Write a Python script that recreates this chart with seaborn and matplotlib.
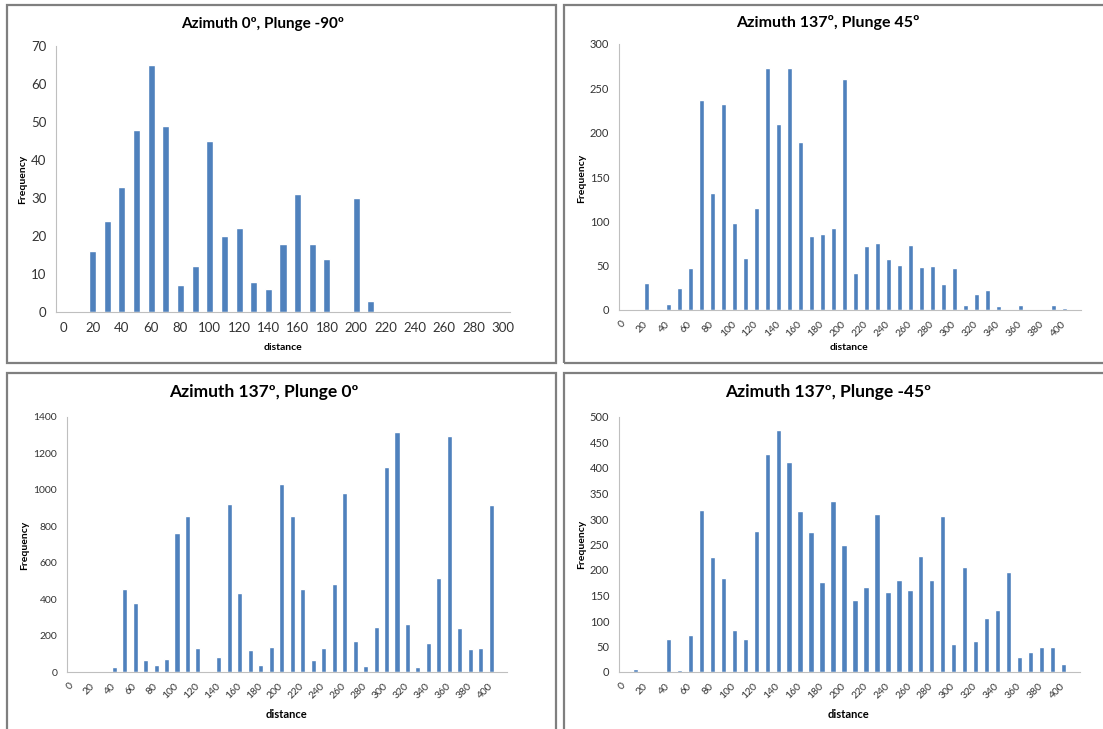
import matplotlib
matplotlib.use("Agg")
import matplotlib.pyplot as plt
from matplotlib.patches import Rectangle
import seaborn as sns
import pandas as pd

sns.set_style("white")
plt.rcParams["font.family"] = ["Lato", "DejaVu Sans"]

# distance classes (10 m bins)
dist_short = list(range(0, 310, 10))
dist_long = list(range(0, 420, 10))

freq_az0_pl_m90 = [0, 0, 16, 24, 33, 48, 65, 49, 7, 12, 45, 20, 22, 8, 6, 18, 31,
                   18, 14, 0, 30, 3, 0, 0, 0, 0, 0, 0, 0, 0, 0]

freq_az137_pl45 = [0, 0, 30, 1, 7, 25, 47, 237, 132, 232, 98, 59, 115, 273, 210,
                   273, 190, 84, 86, 92, 261, 42, 72, 76, 57, 51, 73, 48, 50, 29,
                   47, 6, 18, 22, 5, 0, 6, 0, 0, 6, 2, 0]

freq_az137_pl0 = [0, 0, 0, 0, 25, 457, 378, 66, 40, 69, 764, 857, 133, 0, 80, 921,
                  433, 119, 40, 139, 1033, 857, 453, 64, 130, 481, 983, 170, 31,
                  249, 1128, 1318, 261, 25, 161, 515, 1296, 243, 128, 130, 918, 0]

freq_az137_pl_m45 = [0, 6, 0, 0, 65, 4, 73, 317, 225, 184, 82, 65, 277, 428, 475,
                     412, 316, 275, 176, 335, 250, 141, 167, 310, 157, 180, 161,
                     228, 180, 305, 55, 206, 61, 106, 121, 196, 30, 40, 49, 49, 15, 0]

titles = ["Azimuth 0º, Plunge -90º", "Azimuth 137º, Plunge 45º",
          "Azimuth 137º, Plunge 0º", "Azimuth 137º, Plunge -45º"]

BAR = "#4F81BD"
AXIS = "#BFBFBF"
TXT = "#333333"

W, H = 1103, 729
fig = plt.figure(figsize=(W / 100, H / 100), dpi=100)


def fx(px):
    return px / W


def fy(py):
    return 1 - py / H


def box(x0, y0, x1, y1):
    fig.add_artist(Rectangle((fx(x0), fy(y1)), fx(x1) - fx(x0), fy(y0) - fy(y1),
                             transform=fig.transFigure, fill=False,
                             edgecolor="#7F7F7F", linewidth=1.6))


def panel(rect_px, cats, vals, ymax, ystep, rotate, xfs, yfs):
    x0, y0, x1, y1 = rect_px
    ax = fig.add_axes([fx(x0), fy(y1), fx(x1) - fx(x0), fy(y0) - fy(y1)])
    df = pd.DataFrame({"distance": [str(c) for c in cats], "Frequency": vals})
    sns.barplot(data=df, x="distance", y="Frequency", order=df["distance"],
                color=BAR, saturation=1, width=0.48, ax=ax)
    n = len(cats)
    ax.set_xlim(-0.5, n - 0.5)
    ax.set_ylim(0, ymax)
    ax.set_yticks(range(0, ymax + 1, ystep))
    ax.set_yticklabels([str(v) for v in range(0, ymax + 1, ystep)],
                       fontsize=yfs, color=TXT)
    ax.set_xticks(range(0, n, 2))
    ax.set_xticks([i - 0.5 for i in range(n + 1)], minor=True)
    if rotate:
        ax.set_xticklabels([str(cats[i]) for i in range(0, n, 2)], rotation=45,
                           ha="right", va="center", rotation_mode="anchor",
                           fontsize=xfs, color=TXT)
    else:
        ax.set_xticklabels([str(cats[i]) for i in range(0, n, 2)],
                           fontsize=xfs, color=TXT)
    ax.tick_params(axis="x", which="major", length=0, pad=9 if rotate else 7)
    ax.tick_params(axis="x", which="minor", length=4, width=0.8, color=AXIS,
                   direction="out")
    ax.tick_params(axis="y", which="major", length=4, width=0.8, color=AXIS,
                   direction="out", pad=3)
    ax.set_xlabel("")
    ax.set_ylabel("")
    for s in ["top", "right"]:
        ax.spines[s].set_visible(False)
    for s in ["left", "bottom"]:
        ax.spines[s].set_color(AXIS)
        ax.spines[s].set_linewidth(0.8)
    ax.patch.set_alpha(0)
    return ax


# chart frames
box(7, 5, 556, 363)
box(564, 5, 1112, 363)
box(7, 373, 556, 740)
box(564, 373, 1112, 740)

panel((56, 46, 510, 312), dist_short, freq_az0_pl_m90, 70, 10, False, 9.5, 9.5)
panel((619, 44, 1081, 310), dist_long, freq_az137_pl45, 300, 50, True, 7.5, 8)
panel((67, 417, 507, 672), dist_long, freq_az137_pl0, 1400, 200, True, 7.5, 7.5)
panel((619, 417, 1080, 672), dist_long, freq_az137_pl_m45, 500, 50, True, 7.5, 8)

# titles
for (cx, cy, fs), t in zip([(263, 24, 11), (828, 23, 11.5),
                            (264, 392, 12.5), (828, 392, 12.5)], titles):
    fig.text(fx(cx), fy(cy), t, ha="center", va="center", fontsize=fs,
             fontweight="bold", color="#000000")

# axis titles
for cx, cy in [(23, 179), (582, 178), (25, 545), (582, 544)]:
    fig.text(fx(cx), fy(cy), "Frequency", ha="center", va="center", rotation=90,
             fontsize=7.5, fontweight="bold", color="#000000")
for cx, cy, fs in [(283, 347, 7.5), (849, 347, 7.5), (287, 715, 8), (849, 715, 8)]:
    fig.text(fx(cx), fy(cy), "distance", ha="center", va="center",
             fontsize=fs, fontweight="bold", color="#000000")

fig.savefig("out.png", dpi=100, facecolor="white")
